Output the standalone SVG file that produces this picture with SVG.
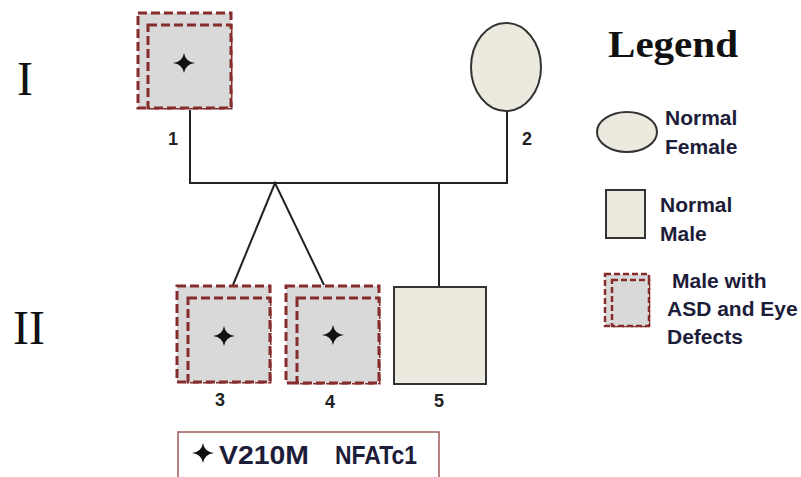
<svg xmlns="http://www.w3.org/2000/svg" xmlns:xlink="http://www.w3.org/1999/xlink" width="801" height="477" viewBox="0 0 801 477">
<style>
.aff{fill:#d9d9d9;stroke:#862c2c;stroke-width:3;stroke-dasharray:9 4}
.norm{fill:#eceadf;stroke:#333;stroke-width:2}
.conn{stroke:#222;stroke-width:2;fill:none}
.num{font-family:"Liberation Sans",Arial,sans-serif;font-weight:bold;font-size:18px;fill:#222;text-anchor:middle}
.gen{font-family:"Liberation Serif","Times New Roman",serif;font-size:48px;fill:#111}
.leg{font-family:"Liberation Sans",Arial,sans-serif;font-weight:bold;font-size:21px;fill:#1d1d3a}
.star{fill:#111}
</style>
<defs>
<path id="star" class="star" d="M0,-10 Q1.3,-1.3 11,0 Q1.3,1.3 0,10 Q-1.3,1.3 -11,0 Q-1.3,-1.3 0,-10Z"/>
</defs>
<text class="gen" x="17" y="95">I</text>
<text class="gen" x="13" y="344">II</text>
<g id="connectors">
<line class="conn" x1="190" y1="110" x2="190" y2="183"/>
<line class="conn" x1="507" y1="111" x2="507" y2="183"/>
<line class="conn" x1="189" y1="183" x2="508" y2="183"/>
<line class="conn" x1="439" y1="183" x2="439" y2="286"/>
<polyline class="conn" points="233,285 275,183 324,285"/>
</g>
<g id="n1">
<rect class="aff" x="138" y="13" width="93" height="95"/>
<rect class="aff" x="148" y="25" width="83" height="83"/>
<use xlink:href="#star" x="184" y="63"/>
<text class="num" x="173" y="145">1</text>
</g>
<g id="n2">
<ellipse class="norm" cx="506" cy="67" rx="35" ry="44"/>
<text class="num" x="527" y="145">2</text>
</g>
<g id="n3">
<rect class="aff" x="177" y="286" width="93" height="96"/>
<rect class="aff" x="188" y="298" width="82" height="84"/>
<use xlink:href="#star" x="224" y="336"/>
<text class="num" x="220" y="406">3</text>
</g>
<g id="n4">
<rect class="aff" x="286" y="286" width="93" height="97"/>
<rect class="aff" x="297" y="298" width="82" height="85"/>
<use xlink:href="#star" x="333" y="335"/>
<text class="num" x="330" y="408">4</text>
</g>
<g id="n5">
<rect class="norm" x="394" y="287" width="92" height="97"/>
<text class="num" x="439" y="407">5</text>
</g>
<g id="legend">
<text x="608" y="57" textLength="130" lengthAdjust="spacingAndGlyphs" style="font-family:'Liberation Serif','Times New Roman',serif;font-weight:bold;font-size:38px;fill:#111">Legend</text>
<ellipse class="norm" cx="627" cy="132" rx="30" ry="20"/>
<text class="leg" x="665" y="125">Normal</text>
<text class="leg" x="665" y="154">Female</text>
<rect class="norm" x="606" y="190" width="39" height="48"/>
<text class="leg" x="660" y="212">Normal</text>
<text class="leg" x="660" y="241">Male</text>
<rect class="aff" x="605" y="274" width="44" height="52" style="stroke-width:2.5;stroke-dasharray:6 3"/>
<rect class="aff" x="612" y="280" width="37" height="46" style="stroke-width:2.5;stroke-dasharray:6 3"/>
<text class="leg" x="672" y="288">Male with</text>
<text class="leg" x="667" y="316">ASD and Eye</text>
<text class="leg" x="667" y="344">Defects</text>
</g>
<g id="key">
<rect x="178" y="432" width="261" height="60" fill="none" stroke="#a05a5a" stroke-width="1.5"/>
<use xlink:href="#star" x="203" y="453"/>
<text x="219" y="464" textLength="90" lengthAdjust="spacingAndGlyphs" style="font-family:'Liberation Sans',Arial,sans-serif;font-weight:bold;font-size:25px;fill:#1d1d3a">V210M</text>
<text x="335" y="464" textLength="82" lengthAdjust="spacingAndGlyphs" style="font-family:'Liberation Sans',Arial,sans-serif;font-weight:bold;font-size:25px;fill:#1d1d3a">NFATc1</text>
</g>
</svg>
